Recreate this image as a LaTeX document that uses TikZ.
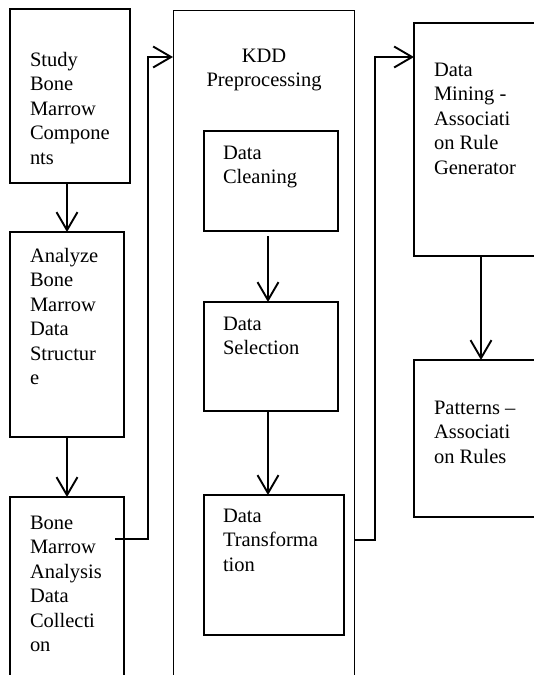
\documentclass[tikz,border=0pt]{standalone}
\usepackage{fontspec}
\setmainfont{Liberation Serif}
\usetikzlibrary{arrows.meta}
\tikzset{
  every node/.append style={inner sep=0pt, outer sep=0pt},
  outerbox/.style={draw, line width=1.8pt, anchor=north west},
  kddbox/.style={draw, line width=0.9pt, anchor=north west},
  stepbox/.style={draw, line width=1.2pt, anchor=north west},
  boxtext/.style={anchor=north west, align=left,
    font=\fontsize{20.5}{24.5}\selectfont},
  flow/.style={-{Straight Barb[length=18pt,width=21pt,line width=1.9pt]}, line width=1.9pt}
}

\begin{document}
\begin{tikzpicture}[x=1pt,y=-1pt]
  \useasboundingbox (0,0) rectangle (534,675);
  \clip (0,0) rectangle (534,675);
  % left column
  \node[outerbox, minimum width=120pt, minimum height=174pt] (study) at (10,9) {};
  \node[boxtext] (studytxt) at (30,52) {Study\\Bone\\Marrow\\Compone\\nts};
  \node[outerbox, minimum width=114pt, minimum height=205pt] (analyze) at (10,232) {};
  \node[boxtext] (analyzetxt) at (30,248) {Analyze\\Bone\\Marrow\\Data\\Structur\\e};
  \node[outerbox, minimum width=114pt, minimum height=230pt] (collect) at (10,497) {};
  \node[boxtext] (collecttxt) at (30,516) {Bone\\Marrow\\Analysis\\Data\\Collecti\\on};
  % KDD column
  \node[kddbox, minimum width=181pt, minimum height=700pt] (kdd) at (173,10) {};
  \node[boxtext, anchor=north, align=center] (kddtxt) at (264,49) {KDD\\Preprocessing};
  \node[stepbox, minimum width=134pt, minimum height=100pt] (clean) at (204,131) {};
  \node[boxtext] (cleantxt) at (223,146) {Data\\Cleaning};
  \node[stepbox, minimum width=134pt, minimum height=109pt] (select) at (204,302) {};
  \node[boxtext] (selecttxt) at (223,317) {Data\\Selection};
  \node[stepbox, minimum width=140pt, minimum height=140pt] (transf) at (204,495) {};
  \node[boxtext] (transftxt) at (223,509) {Data\\Transforma\\tion};
  % right column
  \node[outerbox, minimum width=160pt, minimum height=233pt] (mining) at (414,23) {};
  \node[boxtext] (miningtxt) at (434,63) {Data\\Mining -\\Associati\\on Rule\\Generator};
  \node[outerbox, minimum width=160pt, minimum height=157pt] (patterns) at (414,360) {};
  \node[boxtext] (patternstxt) at (434,401) {Patterns --\\Associati\\on Rules};
  % connectors
  \coordinate (collectout) at (115,539);
  \coordinate (kddin) at (173,57);
  \coordinate (kddout) at (354,540);
  \coordinate (miningin) at (414,57);
  \coordinate (miningout) at (481,256);
  \draw[flow] (analyze.north |- study.south) -- (analyze.north);
  \draw[flow] (analyze.south) -- (collect.north);
  \draw[flow] (collectout) -- ++(33,0) |- (kddin);
  \draw[flow] ([xshift=-3pt,yshift=-5pt]clean.south) -- ([xshift=-3pt]select.north);
  \draw[flow] ([xshift=-3pt]select.south) -- ([xshift=-3pt]select.south |- transf.north);
  \draw[flow] (kddout) -- ++(21,0) |- (miningin);
  \draw[flow] (miningout) -- (miningout |- patterns.north);
\end{tikzpicture}
\end{document}
